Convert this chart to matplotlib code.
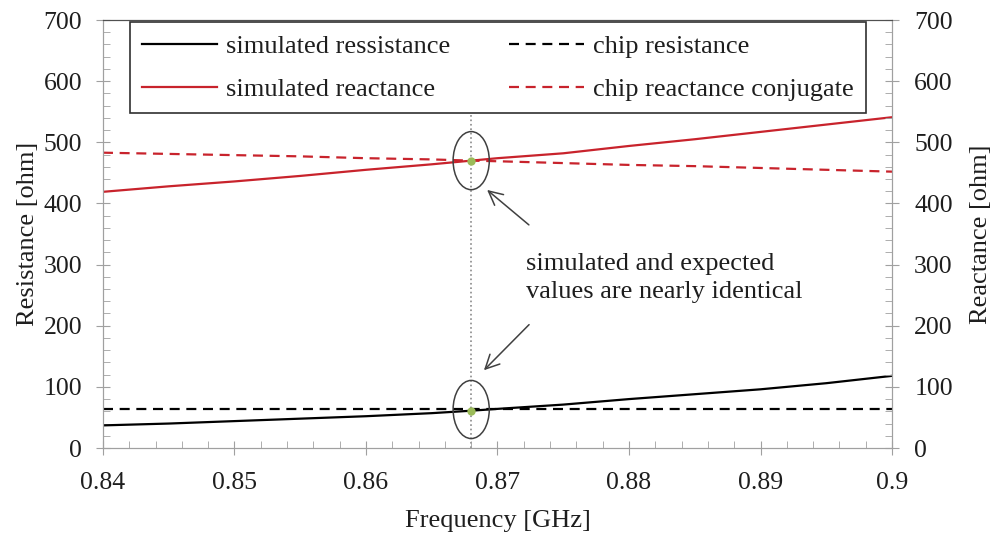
import matplotlib
matplotlib.use('Agg')
import matplotlib.pyplot as plt
from matplotlib.patches import Ellipse

plt.rcParams['font.family'] = ['Liberation Serif', 'DejaVu Serif']
plt.rcParams['font.size'] = 19

# frequency points [GHz] and values
freq = [0.840, 0.845, 0.850, 0.855, 0.860, 0.865, 0.868, 0.870, 0.875, 0.880, 0.885, 0.890, 0.895, 0.900]
sim_res = [37, 40, 44, 48, 52, 57, 61, 64, 71, 80, 88, 96, 106, 118]
chip_res = [64] * len(freq)
sim_reac = [419, 428, 436, 445, 455, 464, 470, 474, 482, 494, 505, 517, 529, 541]
chip_reac = [483, 481, 479, 477, 474, 472, 470, 469, 466, 463, 461, 458, 455, 452]

f_match = 0.868
res_match = 61
reac_match = 470

red = '#c8232c'
spine_gray = '#a0a0a0'
txt = '#1e1e1e'

fig = plt.figure(figsize=(9.93, 5.35), dpi=100)
ax = fig.add_subplot(111)
fig.subplots_adjust(left=0.1037, right=0.8983, top=0.9626, bottom=0.1626)
ax2 = ax.twinx()

ax.axvline(f_match, color='#8a8a8a', linestyle=':', linewidth=1.2, zorder=1)

l1, = ax.plot(freq, sim_res, color='black', lw=1.6, label='simulated ressistance')
l3, = ax.plot(freq, chip_res, color='black', lw=1.6, linestyle=(0, (4.5, 3)), label='chip resistance')
l2, = ax.plot(freq, sim_reac, color=red, lw=1.6, label='simulated reactance')
l4, = ax.plot(freq, chip_reac, color=red, lw=1.6, linestyle=(0, (4.5, 3)), label='chip reactance conjugate')

ax.plot([f_match, f_match], [res_match, reac_match], 'o', color='#9bbb59', ms=6, mec='none', zorder=5)

for yc in (res_match + 2, reac_match):
    ax.add_patch(Ellipse((f_match, yc), 0.00275, 95, fill=False, ec='#404040', lw=1.1, zorder=6))

ax.text(0.8722, 278, 'simulated and expected\nvalues are nearly identical',
        va='center', ha='left', color=txt, linespacing=1.35)
ax.annotate('', xy=(0.86905, 425), xytext=(0.87255, 362),
            arrowprops=dict(arrowstyle='->', color='#404040', lw=1.1, mutation_scale=25))
ax.annotate('', xy=(0.86882, 124), xytext=(0.87255, 205),
            arrowprops=dict(arrowstyle='->', color='#404040', lw=1.1, mutation_scale=25))

for a in (ax, ax2):
    a.set_xlim(0.84, 0.9)
    a.set_ylim(0, 700)
    a.set_yticks(range(0, 701, 100))
    a.set_yticks(range(0, 701, 20), minor=True)
    for s in a.spines.values():
        s.set_color(spine_gray)
    a.spines['top'].set_color('#505050')

ax.set_xticks([0.84, 0.85, 0.86, 0.87, 0.88, 0.89, 0.9])
ax.set_xticklabels(['0.84', '0.85', '0.86', '0.87', '0.88', '0.89', '0.9'])
ax.set_xticks([0.84 + 0.002 * i for i in range(31)], minor=True)

ax.tick_params(which='major', direction='inout', length=10, color=spine_gray,
               labelcolor=txt, labelsize=18.5, pad=10)
ax.tick_params(axis='x', which='major', pad=12)
ax.tick_params(which='minor', direction='in', length=5, color=spine_gray)
ax2.tick_params(which='major', direction='inout', length=10, color=spine_gray,
                labelcolor=txt, labelsize=18.5, pad=11)
ax2.tick_params(which='minor', direction='in', length=5, color=spine_gray)

ax.set_xlabel('Frequency [GHz]', color=txt, labelpad=12)
ax.set_ylabel('Resistance [ohm]', color=txt, labelpad=3)
ax2.set_ylabel('Reactance [ohm]', color=txt, labelpad=12)

leg = ax2.legend([l1, l2, l3, l4], [h.get_label() for h in (l1, l2, l3, l4)],
                 ncol=2, mode='expand', bbox_to_anchor=(0.034, 0.783, 0.933, 0.21),
                 loc='lower left', fancybox=False, edgecolor='#303030', framealpha=1,
                 handlelength=2.85, handletextpad=0.35, borderaxespad=0, labelspacing=0.75,
                 borderpad=0.45)
leg.get_frame().set_linewidth(1.2)
for t in leg.get_texts():
    t.set_color(txt)

fig.savefig('out.png', dpi=100)
